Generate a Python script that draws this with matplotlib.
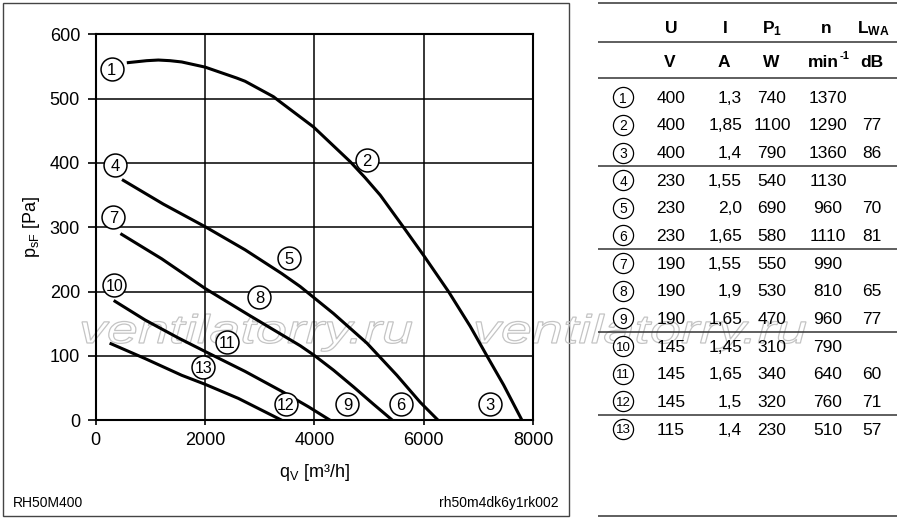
import matplotlib
matplotlib.use('Agg')
import matplotlib.pyplot as plt
from matplotlib.textpath import TextPath
from matplotlib.patches import PathPatch, Rectangle
from matplotlib.font_manager import FontProperties
from matplotlib.transforms import Affine2D

plt.rcParams['font.family'] = ['Liberation Sans', 'DejaVu Sans']
plt.rcParams['mathtext.default'] = 'regular'

# ---------------- data ----------------
q_400 = [597, 933, 1146, 1360, 1574, 2001, 2581, 2733, 3252, 3343, 3984, 4656, 4930, 5205, 5632,
         6010, 6455, 6852, 7158, 7462, 7799]
p_400 = [556, 559, 560, 559, 557, 549, 532, 527, 503, 497, 456, 402, 377, 350, 300,
         255, 200, 146, 100, 55, 0]

q_230 = [505, 1238, 2001, 2733, 3405, 3740, 4350, 4961, 5510, 5937, 6265]
p_230 = [373, 336, 301, 265, 228, 208, 166, 120, 70, 28, 0]

q_190 = [476, 1208, 2001, 2794, 3405, 3740, 3997, 4350, 4716, 5082, 5430]
p_190 = [289, 251, 205, 164, 133, 116, 101, 78, 52, 25, 0]

q_145 = [353, 902, 1512, 2001, 2733, 3405, 3893, 4290]
p_145 = [185, 156, 128, 107, 76, 45, 21, 0]

q_115 = [280, 902, 1573, 2001, 2611, 3405]
p_115 = [119, 96, 70, 56, 34, 0]

label_ids = ['1', '2', '3', '4', '5', '6', '7', '8', '9', '10', '11', '12', '13']
label_q = [293, 4961, 7205, 353, 3544, 5583, 323, 2995, 4606, 341, 2409, 3478, 1970]
label_p = [546, 405, 26, 397, 252, 26, 316, 191, 26, 210, 121, 26, 83]

x_ticks = [0, 2000, 4000, 6000, 8000]
y_ticks = [0, 100, 200, 300, 400, 500, 600]

tab_U = ['400', '400', '400', '230', '230', '230', '190', '190', '190', '145', '145', '145', '115']
tab_I = ['1,3', '1,85', '1,4', '1,55', '2,0', '1,65', '1,55', '1,9', '1,65', '1,45', '1,65', '1,5', '1,4']
tab_P1 = ['740', '1100', '790', '540', '690', '580', '550', '530', '470', '310', '340', '320', '230']
tab_n = ['1370', '1290', '1360', '1130', '960', '1110', '990', '810', '960', '790', '640', '760', '510']
tab_LWA = ['', '77', '86', '', '70', '81', '', '65', '77', '', '60', '71', '57']

# ---------------- figure ----------------
W, H = 900, 519
fig = plt.figure(figsize=(W / 100, H / 100), dpi=100)

bg = fig.add_axes([0, 0, 1, 1], zorder=0)
bg.set_xlim(0, W)
bg.set_ylim(H, 0)
bg.axis('off')

# frame of chart
bg.add_patch(Rectangle((3, 3), 566, 513, fill=False, lw=1.0, edgecolor='#444444'))

# watermark
fp = FontProperties(family='Liberation Sans', style='italic')
tp = TextPath((0, 0), 'ventilatorry.ru', size=1, prop=fp)
ext = tp.get_extents()
for x0 in (82, 476):
    sx = 330 / ext.width
    sy = 29 / ext.y1
    tr = Affine2D().translate(-ext.x0, 0).scale(sx, -sy).translate(x0, 343)
    bg.add_patch(PathPatch(tr.transform_path(tp), facecolor='none',
                           edgecolor='#c4c4c4', lw=0.9, zorder=1))

# footer
bg.text(13, 507, 'RH50M400', fontsize=10, ha='left', va='baseline')
bg.text(559, 507, 'rh50m4dk6y1rk002', fontsize=10, ha='right', va='baseline')

# axis labels
bg.text(314, 477, r'q$_V$ [m³/h]', fontsize=13, ha='center', va='baseline')
bg.text(31, 227, r'p$_{sF}$ [Pa]', fontsize=13, ha='center', va='center', rotation=90)

# ---------------- chart ----------------
L, R, T, B = 95.7, 533.0, 34.3, 420.3
ax = fig.add_axes([L / W, 1 - B / H, (R - L) / W, (B - T) / H], zorder=1)
ax.patch.set_alpha(0)
ax.set_xlim(0, 8000)
ax.set_ylim(0, 600)
ax.set_xticks(x_ticks)
ax.set_yticks(y_ticks)
ax.grid(True, color='black', lw=1.1)
ax.set_axisbelow(True)
for s in ax.spines.values():
    s.set_linewidth(1.5)
ax.tick_params(axis='x', length=3.3, width=1.2, pad=5.0, labelsize=13)
ax.tick_params(axis='y', length=5.8, width=1.2, pad=5.5, labelsize=13)

for q, p in [(q_400, p_400), (q_230, p_230), (q_190, p_190), (q_145, p_145), (q_115, p_115)]:
    ax.plot(q, p, color='black', lw=2.2, zorder=3, solid_joinstyle='round')

for s, q, p in zip(label_ids, label_q, label_p):
    ax.plot([q], [p], 'o', ms=16.5, mfc='white', mec='black', mew=1.1, zorder=4, clip_on=False)
    ax.text(q, p, s, ha='center', va='center_baseline', fontsize=12 if len(s) == 1 else 11.5,
            zorder=5)

# ---------------- table ----------------
for y in (3, 42, 78, 166, 249, 332, 415, 516):
    bg.plot([598, 897], [y, y], color='#333333', lw=1.1, solid_capstyle='butt')

hdr = [(671, 'U'), (725, 'I'), (772, r'P$_1$'), (826, 'n'), (873, r'L$_{WA}$')]
for x, s in hdr:
    bg.text(x, 33, s, fontsize=12.5, fontweight='bold', ha='center', va='baseline')
units = [(670, 'V'), (724, 'A'), (771, 'W'), (872, 'dB')]
for x, s in units:
    bg.text(x, 67, s, fontsize=12.5, fontweight='bold', ha='center', va='baseline')
bg.text(839, 67, 'min', fontsize=12.5, fontweight='bold', ha='right', va='baseline')
bg.text(839.5, 59, '-1', fontsize=8, fontweight='bold', ha='left', va='baseline')

for i in range(len(tab_U)):
    yc = 97.2 + i * 27.65
    yb = yc + 5.6
    bg.plot([623], [yc], 'o', ms=14.5, mfc='white', mec='black', mew=0.9, zorder=3)
    bg.text(623, yc, label_ids[i], fontsize=10 if len(label_ids[i]) == 1 else 9.5,
            ha='center', va='center_baseline', zorder=4)
    bg.text(671, yb, tab_U[i], fontsize=12.5, ha='center', va='baseline')
    bg.text(742, yb, tab_I[i], fontsize=12.5, ha='right', va='baseline')
    bg.text(772, yb, tab_P1[i], fontsize=12.5, ha='center', va='baseline')
    bg.text(828, yb, tab_n[i], fontsize=12.5, ha='center', va='baseline')
    bg.text(872, yb, tab_LWA[i], fontsize=12.5, ha='center', va='baseline')

fig.savefig('out.png', dpi=100)
